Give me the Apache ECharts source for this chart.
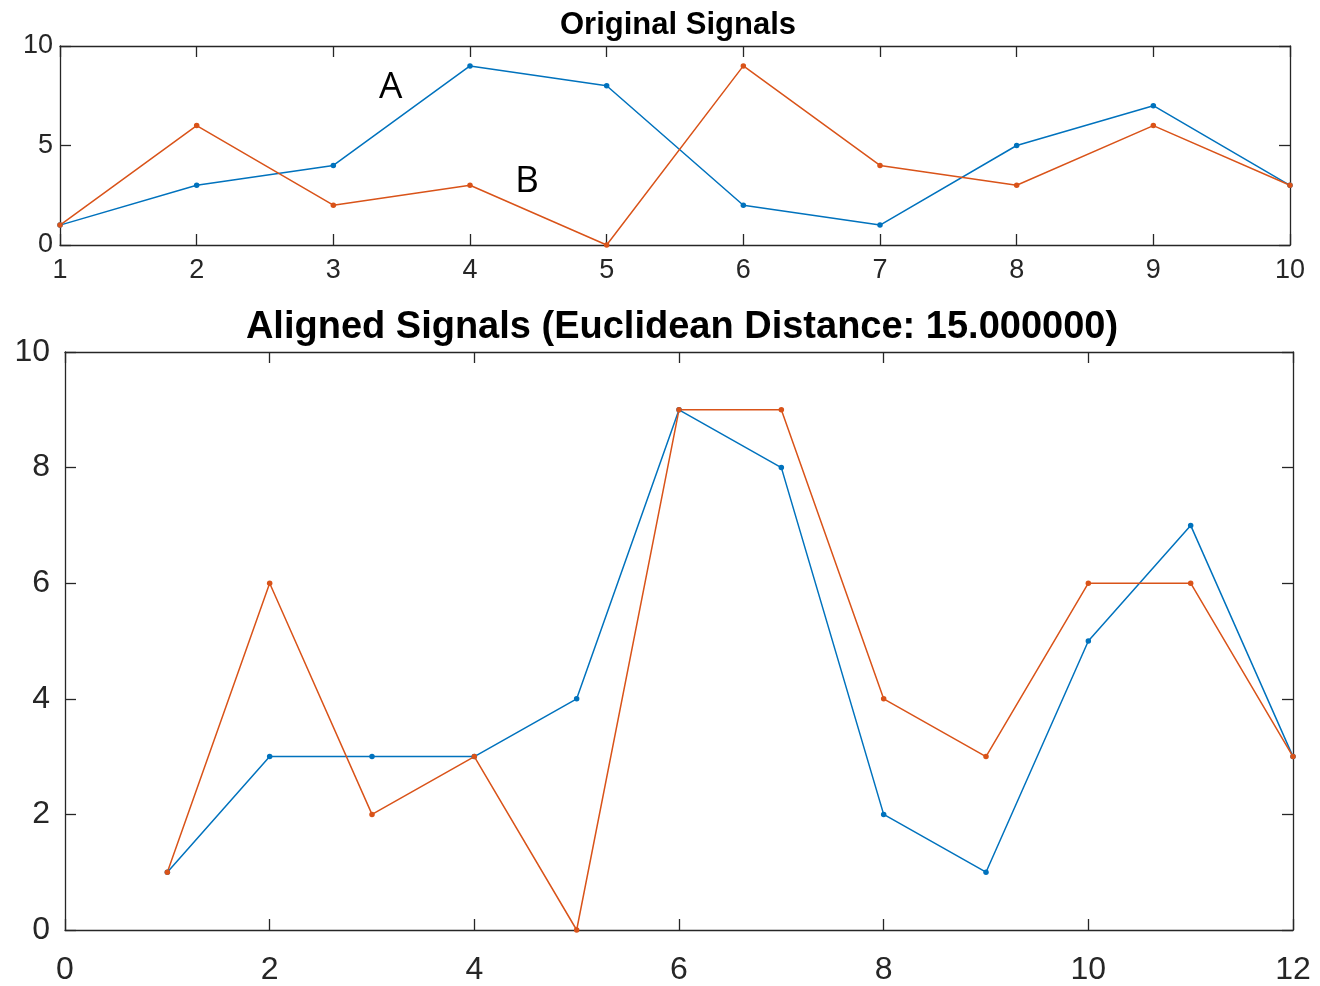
<!DOCTYPE html>
<html>
<head>
<meta charset="utf-8">
<script src="https://cdn.jsdelivr.net/npm/echarts@6/dist/echarts.min.js"></script>
<style>html,body{margin:0;padding:0;background:#fff}#c{width:1320px;height:986px}</style>
</head>
<body>
<div id="c"></div>
<script>
// Original signals (x = 1..10)
var origX = [1,2,3,4,5,6,7,8,9,10];
var signalA = [1,3,4,9,8,2,1,5,7,3];
var signalB = [1,6,2,3,0,9,4,3,6,3];
// Aligned signals (x = 1..12)
var alignedX = [1,2,3,4,5,6,7,8,9,10,11,12];
var alignedA = [1,3,3,3,4,9,8,2,1,5,7,3];
var alignedB = [1,6,2,3,0,9,9,4,3,6,6,3];
var titleTop = 'Original Signals';
var titleBottom = 'Aligned Signals (Euclidean Distance: 15.000000)';

function pairs(xs, ys){ return xs.map(function(x,i){ return [x, ys[i]]; }); }

var axCol = '#262626';
var font = 'Liberation Sans, Arial, Helvetica, sans-serif';
var blue = '#0072BD', orange = '#D95319';

function axisBase(extra){
  var o = {
    type:'value',
    axisLine:{show:true, onZero:false, lineStyle:{color:axCol, width:1.3}},
    axisTick:{show:true, inside:true, length:11, lineStyle:{color:axCol, width:1.3}},
    splitLine:{show:false},
    axisLabel:{color:axCol, fontFamily:font}
  };
  for (var k in extra) o[k] = extra[k];
  return o;
}

function lineSeries(data, color, xi, yi){
  return {
    type:'line', data:data, xAxisIndex:xi, yAxisIndex:yi,
    symbol:'circle', symbolSize:5.5, showSymbol:true,
    lineStyle:{color:color, width:1.5},
    itemStyle:{color:color},
    animation:false, z:3
  };
}

var chart = echarts.init(document.getElementById('c'));
chart.setOption({
  backgroundColor:'#fff',
  animation:false,
  title:[
    {text:titleTop, left:673, top:5, textAlign:'center',
     textStyle:{fontFamily:font, fontWeight:'bold', fontSize:31, color:'#000'}},
    {text:titleBottom, left:677, top:304, textAlign:'center',
     textStyle:{fontFamily:font, fontWeight:'bold', fontSize:38, color:'#000'}}
  ],
  grid:[
    {left:60, top:46, width:1230, height:199},
    {left:65, top:352, width:1228, height:579}
  ],
  xAxis:[
    axisBase({gridIndex:0, position:'bottom', min:1, max:10, interval:1,
      axisLabel:{color:axCol, fontFamily:font, fontSize:27, margin:12}}),
    axisBase({gridIndex:0, position:'top', min:1, max:10, interval:1,
      axisLabel:{show:false}}),
    axisBase({gridIndex:1, position:'bottom', min:0, max:12, interval:2,
      axisLabel:{color:axCol, fontFamily:font, fontSize:32, margin:24}}),
    axisBase({gridIndex:1, position:'top', min:0, max:12, interval:2,
      axisLabel:{show:false}})
  ],
  yAxis:[
    axisBase({gridIndex:0, position:'left', min:0, max:10, interval:5,
      axisLabel:{color:axCol, fontFamily:font, fontSize:27, margin:7, padding:[6,0,0,0]}}),
    axisBase({gridIndex:0, position:'right', min:0, max:10, interval:5,
      axisLabel:{show:false}}),
    axisBase({gridIndex:1, position:'left', min:0, max:10, interval:2,
      axisLabel:{color:axCol, fontFamily:font, fontSize:32, margin:15, padding:[6,0,0,0]}}),
    axisBase({gridIndex:1, position:'right', min:0, max:10, interval:2,
      axisLabel:{show:false}})
  ],
  series:[
    lineSeries(pairs(origX, signalA), blue, 0, 0),
    lineSeries(pairs(origX, signalB), orange, 0, 0),
    lineSeries(pairs(alignedX, alignedA), blue, 2, 2),
    lineSeries(pairs(alignedX, alignedB), orange, 2, 2)
  ],
  graphic:[
    {type:'text', left:379, top:69, style:{text:'A', font:'37px "Open Sans", sans-serif', fill:'#000'}},
    {type:'text', left:515, top:163, style:{text:'B', font:'37px "Open Sans", sans-serif', fill:'#000'}}
  ]
});
</script>
</body>
</html>
